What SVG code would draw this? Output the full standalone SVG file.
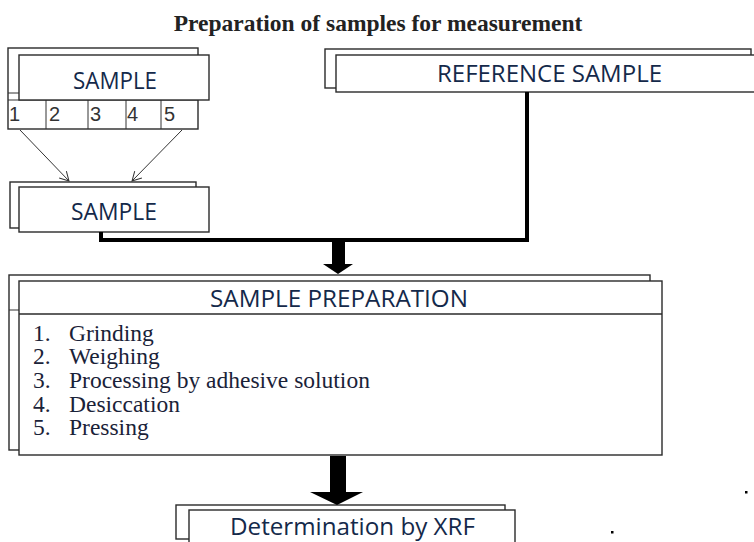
<svg xmlns="http://www.w3.org/2000/svg" width="754" height="542" viewBox="0 0 754 542">
<style>
.box{fill:#fff;stroke:#2a2a2a;stroke-width:1.4}
.lbl{font-family:"Open Sans","Noto Sans",sans-serif;font-size:23px;fill:#14294a;text-anchor:middle}
.num{font-family:"Liberation Sans",Arial,sans-serif;font-size:20px;fill:#333}
.li{font-family:"Liberation Serif","Times New Roman",serif;font-size:23.5px;fill:#1a2238}
.thin{stroke:#333;stroke-width:1;fill:none}
</style>
<defs>
<marker id="open" markerWidth="12" markerHeight="12" refX="10" refY="6" orient="auto" markerUnits="userSpaceOnUse">
<path d="M1,1 L10,6 L1,11" fill="none" stroke="#333" stroke-width="1"/>
</marker>
</defs>
<rect width="754" height="542" fill="#fff"/>
<text x="378" y="31" font-family="Liberation Serif,'Times New Roman',serif" font-weight="bold" font-size="23.5" fill="#222" text-anchor="middle">Preparation of samples for measurement</text>

<g id="sample-top">
<rect class="box" x="8" y="48" width="190" height="81"/>
<line class="thin" x1="8" y1="93" x2="19" y2="93"/>
<line class="thin" x1="8" y1="100" x2="198" y2="100"/>
<line class="thin" x1="46" y1="100" x2="46" y2="129"/>
<line class="thin" x1="88" y1="100" x2="88" y2="129"/>
<line class="thin" x1="126" y1="100" x2="126" y2="129"/>
<line class="thin" x1="161" y1="100" x2="161" y2="129"/>
<text class="num"><tspan x="9" y="121">1</tspan><tspan x="49" y="121">2</tspan><tspan x="90" y="121">3</tspan><tspan x="127" y="121">4</tspan><tspan x="164" y="121">5</tspan></text>
<rect class="box" x="19" y="55" width="190" height="45"/>
<text class="lbl" x="115" y="89" textLength="84" lengthAdjust="spacingAndGlyphs">SAMPLE</text>
</g>

<g id="sample-mid">
<rect class="box" x="10" y="182" width="186" height="46"/>
<rect class="box" x="19" y="187" width="190" height="45"/>
<text class="lbl" x="114" y="220" textLength="86" lengthAdjust="spacingAndGlyphs">SAMPLE</text>
</g>

<g id="reference">
<rect class="box" x="325" y="49" width="426" height="39"/>
<rect class="box" x="336" y="55" width="430" height="37"/>
<text class="lbl" x="549.5" y="82" textLength="225" lengthAdjust="spacingAndGlyphs">REFERENCE SAMPLE</text>
</g>

<g id="preparation">
<rect class="box" x="9" y="275" width="641" height="175"/>
<line class="thin" x1="9" y1="310" x2="19" y2="310"/>
<rect class="box" x="19" y="281" width="643" height="174"/>
<line x1="19" y1="314" x2="662" y2="314" stroke="#2a2a2a" stroke-width="1.4"/>
<text class="lbl" x="339" y="307" textLength="258" lengthAdjust="spacingAndGlyphs">SAMPLE PREPARATION</text>
<text class="li"><tspan x="33" y="341">1.</tspan><tspan x="69" y="341">Grinding</tspan></text>
<text class="li"><tspan x="33" y="364">2.</tspan><tspan x="69" y="364">Weighing</tspan></text>
<text class="li"><tspan x="33" y="388">3.</tspan><tspan x="69" y="388">Processing by adhesive solution</tspan></text>
<text class="li"><tspan x="33" y="412">4.</tspan><tspan x="69" y="412">Desiccation</tspan></text>
<text class="li"><tspan x="33" y="435">5.</tspan><tspan x="69" y="435">Pressing</tspan></text>
</g>

<g id="xrf">
<rect class="box" x="176" y="505" width="329" height="34"/>
<rect class="box" x="189" y="510" width="326" height="40"/>
<text class="lbl" x="352.5" y="535" textLength="245" lengthAdjust="spacingAndGlyphs">Determination by XRF</text>
</g>

<g id="connectors">
<line class="thin" x1="20" y1="130" x2="69" y2="181" marker-end="url(#open)"/>
<line class="thin" x1="182" y1="130" x2="132" y2="181" marker-end="url(#open)"/>
<path d="M101,232 V240 H527 V92" fill="none" stroke="#000" stroke-width="4"/>
<polygon points="332,240 345,240 345,264 353,264 338,274 323,264 332,264" fill="#000"/>
<polygon points="330,456 346,456 346,492 363,492 337,505 310,492 330,492" fill="#000"/>
</g>

<rect x="745" y="491" width="2.5" height="2.5" fill="#000"/>
<rect x="611" y="531" width="2.5" height="2.5" fill="#000"/>
</svg>
